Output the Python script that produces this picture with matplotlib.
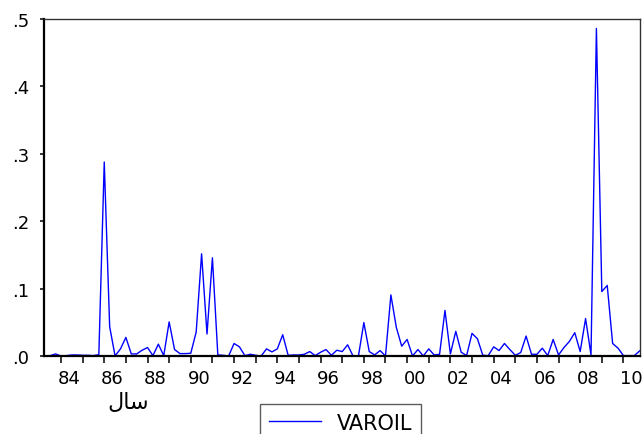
import numpy as np
import matplotlib
matplotlib.use("Agg")
import matplotlib.pyplot as plt

plt.rcParams['font.family'] = ['DejaVu Sans']

# quarterly series, 1983Q3 .. 2010Q4
start_year = 1983
start_quarter = 3
varoil = [
    0.001, 0.0035,                      # 1983 Q3-Q4
    0.0005, 0.001, 0.002, 0.002,        # 1984
    0.0015, 0.0015, 0.001, 0.0025,      # 1985
    0.288, 0.044, 0.0005, 0.011,        # 1986
    0.028, 0.0035, 0.0035, 0.009,       # 1987
    0.013, 0.001, 0.018, 0.001,         # 1988
    0.051, 0.010, 0.004, 0.004,         # 1989
    0.0045, 0.036, 0.152, 0.033,        # 1990
    0.146, 0.002, 0.0015, 0.0005,       # 1991
    0.019, 0.014, 0.001, 0.003,         # 1992
    0.0015, 0.0003, 0.011, 0.0065,      # 1993
    0.011, 0.032, 0.0015, 0.002,        # 1994
    0.002, 0.003, 0.007, 0.001,         # 1995
    0.006, 0.010, 0.0015, 0.009,        # 1996
    0.007, 0.017, 0.0005, 0.0005,       # 1997
    0.050, 0.007, 0.002, 0.0085,        # 1998
    0.0005, 0.091, 0.043, 0.015,        # 1999
    0.025, 0.0005, 0.010, 0.0005,       # 2000
    0.011, 0.002, 0.003, 0.068,         # 2001
    0.0035, 0.037, 0.006, 0.001,        # 2002
    0.034, 0.026, 0.0015, 0.001,        # 2003
    0.014, 0.0085, 0.019, 0.010,        # 2004
    0.0015, 0.0055, 0.030, 0.003,       # 2005
    0.003, 0.012, 0.001, 0.025,         # 2006
    0.002, 0.013, 0.022, 0.035,         # 2007
    0.007, 0.056, 0.002, 0.486,         # 2008
    0.096, 0.105, 0.019, 0.012,         # 2009
    0.001, 0.001, 0.001, 0.008,         # 2010
]
series_name = "VAROIL"
x_label = "\uFEDD\uFE8E\uFEB3"  # "سال" in shaped, visual order
y_ticks = [0.0, 0.1, 0.2, 0.3, 0.4, 0.5]
y_ticklabels = [".0", ".1", ".2", ".3", ".4", ".5"]
label_years = list(range(1984, 2011, 2))

t = start_year + (start_quarter - 1) / 4 + 0.25 * np.arange(len(varoil))

fig = plt.figure(figsize=(6.44, 4.35), dpi=100)
ax = fig.add_axes([44 / 644, 1 - 357.3 / 435, 596 / 644, 337.3 / 435])

line, = ax.plot(t, varoil, color="#0000ff", lw=1.0, label=series_name)

ax.set_xlim(1983.215, 2010.765)
ax.set_ylim(0, 0.5)

# year ticks, labels every second year slightly right of the tick
ax.set_xticks(range(1984, 2011))
ax.set_xticklabels([])
ax.set_xticks([y + 0.37 for y in label_years],
              [f"{y % 100:02d}" for y in label_years], minor=True)
ax.tick_params(axis="x", which="major", direction="out", length=5, width=1.1)
ax.tick_params(axis="x", which="minor", length=0, pad=9.5, labelsize=13)

ax.set_yticks(y_ticks, y_ticklabels)
ax.tick_params(axis="y", direction="out", length=3, width=1.1, pad=7.5,
               labelsize=13)

for side in ["left", "bottom"]:
    ax.spines[side].set_linewidth(1.6)
    ax.spines[side].set_color("black")
for side in ["top", "right"]:
    ax.spines[side].set_linewidth(1.0)
    ax.spines[side].set_color("#333333")

fig.text(128 / 644, 1 - 403 / 435, x_label, ha="center", va="center",
         fontsize=16)

leg = fig.legend(handles=[line], loc="upper center",
                 bbox_to_anchor=(340.5 / 644, 1 - 405 / 435),
                 frameon=True, fancybox=False, fontsize=15,
                 handlelength=2.5, handletextpad=0.75, borderpad=0.42,
                 borderaxespad=0)
leg.get_frame().set_edgecolor("#333333")
leg.get_frame().set_linewidth(1.0)

fig.savefig("out.png", dpi=100)
